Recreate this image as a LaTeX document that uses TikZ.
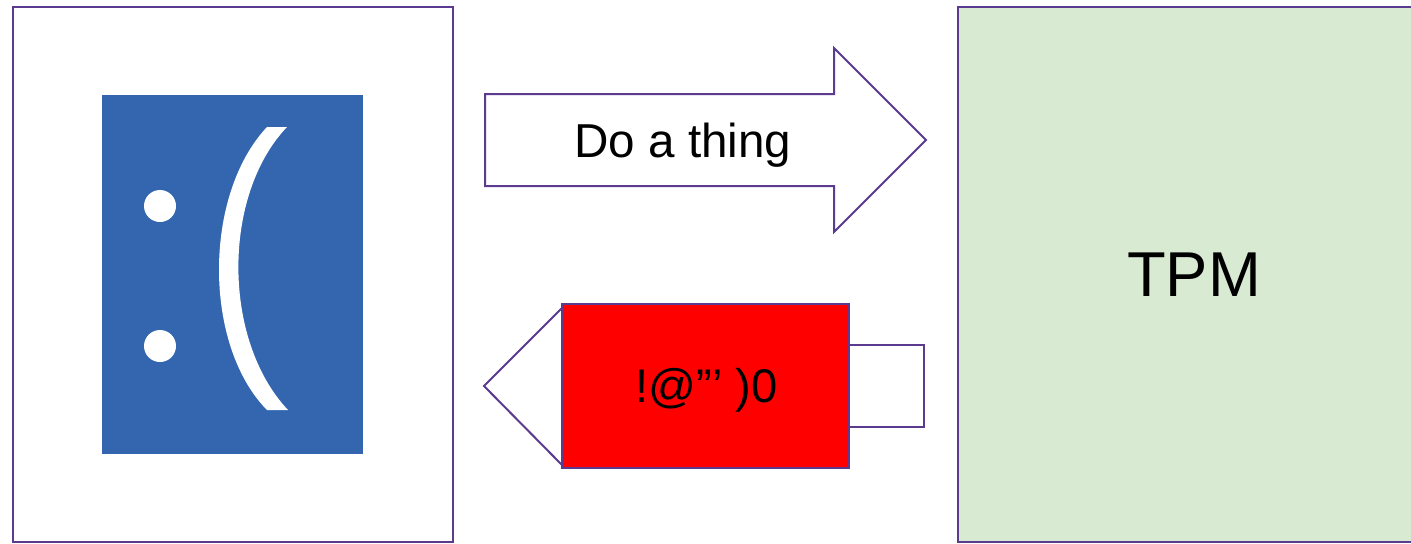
\documentclass[tikz,border=0pt]{standalone}
\usepackage{fontspec}
\setmainfont{Liberation Sans}
\definecolor{edgepurple}{HTML}{5B3A8F}
\definecolor{screenblue}{HTML}{3366AE}
\definecolor{chipgreen}{HTML}{D9EAD3}
\tikzset{
	panel/.style={draw=edgepurple, line width=1pt, outer sep=0pt, inner sep=0pt},
	eye/.style={circle, fill=white, inner sep=0pt, minimum size=16pt}
}

\begin{document}
\begin{tikzpicture}[x=0.5pt, y=-0.5pt]
\useasboundingbox (0,0) rectangle (1411,543);

\begin{scope}
\clip (0,0) rectangle (1411,543);
\node[panel, minimum width=220pt, minimum height=267.5pt] (host) at (233,274.5) {};
\node[panel, fill=chipgreen, minimum width=235pt, minimum height=267.5pt] (tpm) at (1193,274.5) {};
\end{scope}
\node[font=\fontsize{31.7}{36}\selectfont] (tpmlabel) at (1194,275) {TPM};

% the frowning screen
\node[fill=screenblue, inner sep=0pt, minimum width=130.5pt, minimum height=179.5pt] (screen) at (232.5,274.5) {};
\node[eye] (eyetop) at (160,206) {};
\node[eye] (eyebottom) at (160,346) {};
\fill[white] (267,127) -- (287,127) .. controls (222,195) and (222,340) .. (288,410) -- (267,410) .. controls (203,345) and (203,195) .. (267,127) -- cycle;

% command going out
\draw[edgepurple, line width=1pt] (485,94) -- (834,94) -- (834,48) -- (926,140) -- (834,232) -- (834,186) -- (485,186) -- cycle;
\node[font=\fontsize{23.8}{28}\selectfont] (command) at (683,145) {Do a thing};

% garbled answer coming back
\draw[edgepurple, line width=1pt] (849,345) -- (924,345) -- (924,427) -- (849,427);
\draw[edgepurple, line width=1pt] (562,308) -- (484,386) -- (562,465);
\node[panel, fill=red, minimum width=143.5pt, minimum height=82pt] (answer) at (705.5,386) {};
\node[font=\fontsize{23.6}{28}\selectfont] (answerlabel) at (706.5,390) {!@”’ )0};

\end{tikzpicture}
\end{document}
